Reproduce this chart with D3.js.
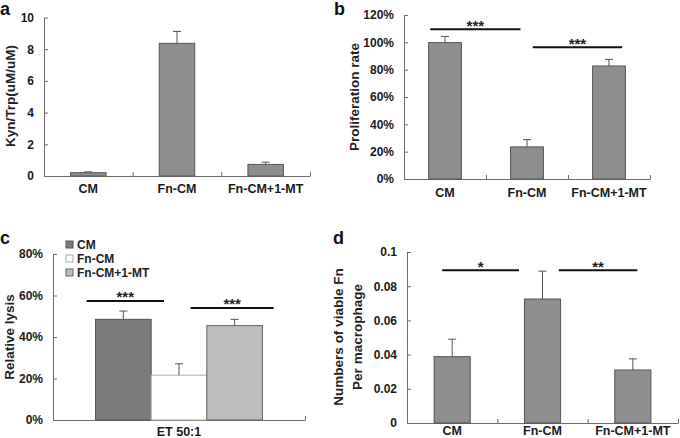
<!DOCTYPE html>
<html lang="en">
<head>
<meta charset="utf-8">
<title>Kyn/Trp, proliferation, lysis and viable Fn</title>
<style>
  body { margin: 0; background: white; }
  svg { display: block; font-family: "Liberation Sans", Arial, sans-serif; }
  .tick text { font-size: 12px; font-weight: bold; fill: #1a1a1a; }
  .axis path, .axis line { stroke: #6b6b6b; }
  .cat { font-size: 12.5px; font-weight: bold; fill: #1a1a1a; text-anchor: middle; }
  .ytitle { font-size: 13.5px; font-weight: bold; fill: #222; text-anchor: middle; }
  .letter { font-size: 18px; font-weight: bold; fill: #111; }
  .star { font-size: 15px; font-weight: bold; fill: #222; text-anchor: middle; }
  .legend { font-size: 12px; font-weight: bold; fill: #222; }
</style>
</head>
<body>
<svg id="chart" width="680" height="438"></svg>
<script src="https://cdn.jsdelivr.net/npm/d3@7"></script>
<script>

// ---- data ----
var groups = ["CM", "Fn-CM", "Fn-CM+1-MT"]

// a: Kyn/Trp ratio
var kynMean = [0.21, 8.37, 0.73]
var kynErr = [0.05, 0.75, 0.14]

// b: proliferation rate (%)
var prolifMean = [99.8, 23.5, 82.7]
var prolifErr = [4.5, 5.3, 4.8]
var prolifSig = [{from: -0.18, to: 0.92, y: 109.6, text: "***"},
                 {from: 1.07, to: 2.16, y: 96.4, text: "***"}]

// c: relative lysis (%) at ET 50:1
var lysisCat = ["ET 50:1"]
var lysisMean = [48.5, 21.6, 45.5]
var lysisErr = [4, 5.5, 3]
var lysisSig = [{from: -0.66, to: 0.73, y: 57.4, text: "***"},
                {from: 1.21, to: 2.7, y: 54, text: "***"}]

// d: viable Fn per macrophage
var viableMean = [0.0388, 0.0725, 0.031]
var viableErr = [0.0102, 0.0163, 0.0065]
var viableSig = [{from: -0.11, to: 0.74, y: 0.0893, text: "*"},
                 {from: 1.18, to: 2.05, y: 0.0893, text: "**"}]

var svg = d3.select("#chart")

function addYAxis(g, y, ticks, fmt, x0){
  g.append("g")
    .attr("class", "axis")
    .attr("transform", "translate(" + x0 + ",0)")
    .call(d3.axisLeft(y).tickValues(ticks).tickFormat(fmt)
      .tickSizeInner(-4).tickSizeOuter(0).tickPadding(10))
}

function addXAxis(g, x0, x1, y0, n){
  // ticks at the borders between categories
  var xb = d3.scaleLinear().domain([0, n]).range([x0, x1])
  g.append("g")
    .attr("class", "axis")
    .attr("transform", "translate(0," + y0 + ")")
    .call(d3.axisBottom(xb).tickValues(d3.range(1, n + 1)).tickFormat("")
      .tickSizeInner(-4).tickSizeOuter(0))
}

function errorBars(g, xs, y, means, errs, w){
  var eb = g.append("g").attr("stroke", "#555").attr("stroke-width", 1)
  means.forEach(function(m, i){
    var cx = xs[i]
    eb.append("line").attr("x1", cx).attr("x2", cx)
      .attr("y1", y(m)).attr("y2", y(m + errs[i]))
    eb.append("line").attr("x1", cx - w/2).attr("x2", cx + w/2)
      .attr("y1", y(m + errs[i])).attr("y2", y(m + errs[i]))
  })
}

function sigLines(g, xIdx, y, sig){
  sig.forEach(function(s){
    g.append("line")
      .attr("x1", xIdx(s.from)).attr("x2", xIdx(s.to))
      .attr("y1", y(s.y)).attr("y2", y(s.y))
      .attr("stroke", "#111").attr("stroke-width", 2)
    g.append("text").attr("class", "star")
      .attr("x", (xIdx(s.from) + xIdx(s.to)) / 2)
      .attr("y", y(s.y) + 1.5)
      .text(s.text)
  })
}

// simple bar panel: one bar per group
function barPanel(opt){
  var g = svg.append("g")
  var x = d3.scaleBand().domain(groups).range([opt.x0, opt.x1])
    .paddingInner(0.6).paddingOuter(0.3)
  var y = d3.scaleLinear().domain([0, opt.max]).range([opt.y0, opt.yTop])

  addYAxis(g, y, opt.ticks, opt.fmt, opt.x0)
  addXAxis(g, opt.x0, opt.x1, opt.y0, groups.length)

  g.selectAll(".bar").data(opt.mean).enter().append("rect")
    .attr("class", "bar")
    .attr("x", function(d, i){ return x(groups[i]) })
    .attr("y", function(d){ return y(d) })
    .attr("width", x.bandwidth())
    .attr("height", function(d){ return opt.y0 - y(d) })
    .attr("fill", "#8e8e8e")
    .attr("stroke", "#555")

  var centers = groups.map(function(c){ return x(c) + x.bandwidth()/2 })
  errorBars(g, centers, y, opt.mean, opt.err, 8)

  if (opt.sig){
    var step = x.step()
    var xIdx = function(i){ return x(groups[0]) + x.bandwidth()/2 + i * step }
    sigLines(g, xIdx, y, opt.sig)
  }

  g.selectAll(".cat").data(groups).enter().append("text")
    .attr("class", "cat")
    .attr("x", function(d){ return x(d) + x.bandwidth()/2 })
    .attr("y", opt.y0 + opt.catDy)
    .text(function(d){ return d })

  opt.title.forEach(function(t, i){
    g.append("text").attr("class", "ytitle")
      .attr("transform", "translate(" + t.x + "," + opt.titleY + ") rotate(-90)")
      .attr("dy", "0.35em")
      .text(t.text)
  })

  g.append("text").attr("class", "letter")
    .attr("x", opt.letterX).attr("y", opt.letterY).text(opt.letter)
}

// a
barPanel({x0: 44, x1: 310, y0: 176, yTop: 17.5, max: 10,
  ticks: [0, 2, 4, 6, 8, 10], fmt: function(d){ return d },
  mean: kynMean, err: kynErr, catDy: 17,
  title: [{x: 10, text: "Kyn/Trp(uM/uM)"}], titleY: 96,
  letter: "a", letterX: 0, letterY: 15})

// b
barPanel({x0: 404, x1: 650, y0: 179, yTop: 15, max: 120,
  ticks: [0, 20, 40, 60, 80, 100, 120], fmt: function(d){ return d + "%" },
  mean: prolifMean, err: prolifErr, sig: prolifSig, catDy: 18,
  title: [{x: 354, text: "Proliferation rate"}], titleY: 97,
  letter: "b", letterX: 334, letterY: 15})

// d
barPanel({x0: 407, x1: 678, y0: 423, yTop: 252, max: 0.1,
  ticks: [0, 0.02, 0.04, 0.06, 0.08, 0.1], fmt: function(d){ return d },
  mean: viableMean, err: viableErr, sig: viableSig, catDy: 12,
  title: [{x: 338, text: "Numbers of viable Fn"}, {x: 357, text: "Per macrophage"}], titleY: 337,
  letter: "d", letterX: 333, letterY: 244})

// c: grouped bars for one effector:target ratio
;(function(){
  var g = svg.append("g")
  var x0 = 53, x1 = 305, y0 = 420, yTop = 254
  var fills = ["#7b7b7b", "#ffffff", "#bdbdbd"]
  var strokes = ["#555", "#aaa", "#666"]

  var xOuter = d3.scaleBand().domain(lysisCat).range([x0, x1]).padding(0.203)
  var xInner = d3.scaleBand().domain(groups).range([0, xOuter.bandwidth()])
  var y = d3.scaleLinear().domain([0, 80]).range([y0, yTop])

  addYAxis(g, y, [0, 20, 40, 60, 80], function(d){ return d + "%" }, x0)
  addXAxis(g, x0, x1, y0, lysisCat.length)

  var left = xOuter(lysisCat[0])
  g.selectAll(".bar").data(lysisMean).enter().append("rect")
    .attr("class", "bar")
    .attr("x", function(d, i){ return left + xInner(groups[i]) })
    .attr("y", function(d){ return y(d) })
    .attr("width", xInner.bandwidth())
    .attr("height", function(d){ return y0 - y(d) })
    .attr("fill", function(d, i){ return fills[i] })
    .attr("stroke", function(d, i){ return strokes[i] })

  var centers = groups.map(function(c){ return left + xInner(c) + xInner.bandwidth()/2 })
  errorBars(g, centers, y, lysisMean, lysisErr, 8)

  var xIdx = function(i){ return centers[0] + i * xInner.step() }
  sigLines(g, xIdx, y, lysisSig)

  g.append("text").attr("class", "cat")
    .attr("x", left + xOuter.bandwidth()/2).attr("y", y0 + 16)
    .text(lysisCat[0])

  // legend
  var lg = g.selectAll(".lg").data(groups).enter().append("g")
    .attr("class", "lg")
    .attr("transform", function(d, i){ return "translate(66," + (241 + i * 14) + ")" })
  lg.append("rect").attr("width", 7).attr("height", 7)
    .attr("fill", function(d, i){ return fills[i] })
    .attr("stroke", function(d, i){ return strokes[i] })
  lg.append("text").attr("class", "legend")
    .attr("x", 11).attr("y", 7.5)
    .text(function(d){ return d })

  g.append("text").attr("class", "ytitle")
    .attr("transform", "translate(9,337) rotate(-90)")
    .attr("dy", "0.35em")
    .text("Relative lysis")

  g.append("text").attr("class", "letter")
    .attr("x", 0).attr("y", 244).text("c")
})()

</script>
</body>
</html>
